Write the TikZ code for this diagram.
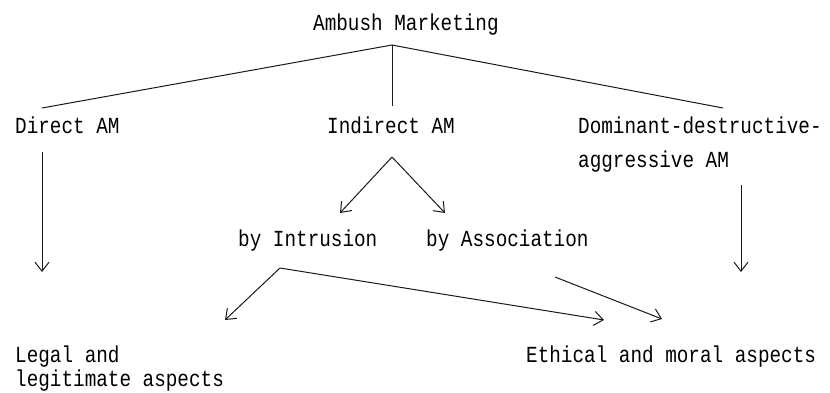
\documentclass[tikz,border=0pt]{standalone}
\usepackage{fontspec}
\newfontfamily\monof[FakeStretch=0.84]{Liberation Mono}
\usetikzlibrary{arrows.meta}
\begin{document}
\begin{tikzpicture}[x=1pt,y=-1pt,
  lbl/.style={anchor=base west,inner sep=0pt,font=\monof\fontsize{23}{26}\selectfont,text=black},
  ln/.style={line width=1pt,draw=black!90},
  arr/.style={ln,-{Straight Barb[length=9pt,width=14pt,line width=1pt]}}]
\useasboundingbox (0,0) rectangle (830,392);
\node[lbl] (am) at (313,30) {Ambush Marketing};
\node[lbl] (dam) at (15,133) {Direct AM};
\node[lbl] (iam) at (327,133) {Indirect AM};
\node[lbl] (ddam) at (578,133) {Dominant-destructive-};
\node[lbl] (ddam2) at (578,167) {aggressive AM};
\node[lbl] (intr) at (238,246) {by Intrusion};
\node[lbl] (assoc) at (426,246) {by Association};
\node[lbl] (legal) at (15,362) {Legal and};
\node[lbl] (legal2) at (15,386) {legitimate aspects};
\node[lbl] (eth) at (526,362) {Ethical and moral aspects};
% coordinates
\coordinate (apex) at (392,45);
\coordinate (dTop) at (42,108);
\coordinate (iTop) at (392,106);
\coordinate (ddTop) at (723,108);
\coordinate (dFrom) at (42,152);
\coordinate (dTo) at (42,272);
\coordinate (ddFrom) at (741,185);
\coordinate (ddTo) at (741,272);
\coordinate (iDot) at (392,157);
\coordinate (iL) at (340,213);
\coordinate (iR) at (445,213);
\coordinate (inFrom) at (280,268);
\coordinate (inL) at (225,320);
\coordinate (inR) at (604,320);
\coordinate (asFrom) at (555,277);
\coordinate (asTo) at (662,319);
\draw[ln] (dTop) -- (apex) -- (ddTop);
\draw[ln] (apex) -- (iTop);
\draw[arr] (dFrom) -- (dTo);
\draw[arr] (ddFrom) -- (ddTo);
\draw[arr] (iDot) -- (iL);
\draw[arr] (iDot) -- (iR);
\draw[arr] (inFrom) -- (inL);
\draw[arr] (inFrom) -- (inR);
\draw[arr] (asFrom) -- (asTo);
\end{tikzpicture}
\end{document}
